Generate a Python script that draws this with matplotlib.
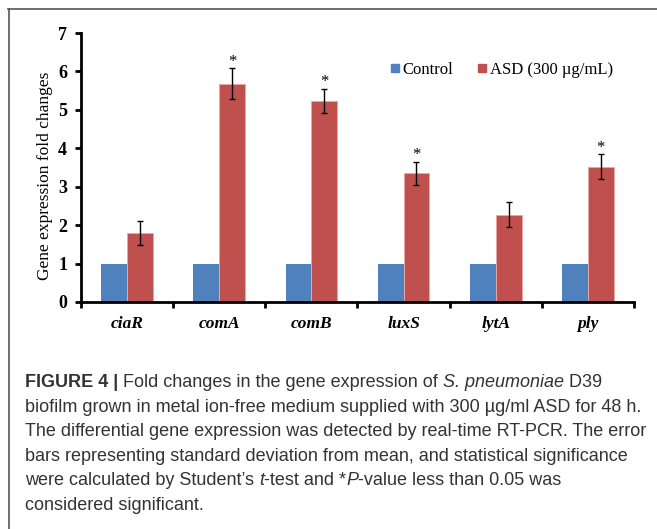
import numpy as np
import matplotlib.pyplot as plt
from matplotlib.lines import Line2D

genes = ['ciaR', 'comA', 'comB', 'luxS', 'lytA', 'ply']
control = [1, 1, 1, 1, 1, 1]
asd = [1.80, 5.68, 5.23, 3.35, 2.27, 3.52]
asd_err = [0.31, 0.40, 0.32, 0.30, 0.32, 0.32]
signif = [False, True, True, True, False, True]

blue = '#4F81BD'
red = '#C0504D'
serif = ['Liberation Serif', 'DejaVu Serif']
sans = ['Liberation Sans', 'DejaVu Sans']

fig = plt.figure(figsize=(6.57, 5.29), dpi=100)
ax = fig.add_axes([81 / 657, 1 - 302 / 529, 553 / 657, 269 / 529])

x = np.arange(len(genes))
w = 0.28
ax.bar(x - w / 2, control, w, color=blue, label='Control')
ax.bar(x + w / 2, asd, w, color=red, edgecolor='#E8A8A6', linewidth=0.6,
       label='ASD (300 µg/mL)')
ax.errorbar(x + w / 2, asd, yerr=asd_err, fmt='none', ecolor='black',
            elinewidth=1, capsize=2.5, capthick=1)
for i in range(len(genes)):
    if signif[i]:
        ax.text(x[i] + w / 2, asd[i] + asd_err[i] - 0.04, '*', ha='center',
                va='bottom', fontsize=12, family=serif)

ax.set_xlim(-0.5, len(genes) - 0.5)
ax.set_ylim(0, 7)
ax.set_yticks(range(8))
ax.set_yticklabels([str(v) for v in range(8)], family=serif,
                   fontweight='bold', fontsize=13)
ax.set_xticks(x)
ax.set_xticklabels(genes, family=serif, fontweight='bold', style='italic',
                   fontsize=12.5)
ax.set_xticks(np.arange(-0.5, len(genes)), minor=True)
ax.tick_params(axis='x', which='major', length=0, pad=10)
ax.tick_params(axis='x', which='minor', length=4, width=2, direction='out')
ax.tick_params(axis='y', length=4, width=2, direction='out', pad=6)
ax.set_ylabel('Gene expression fold changes', family=serif, fontsize=12.5)
ax.yaxis.set_label_coords(-0.05, 0.468)

for s in ['top', 'right']:
    ax.spines[s].set_visible(False)
for s in ['left', 'bottom']:
    ax.spines[s].set_linewidth(2)

handles = [Line2D([], [], marker='s', color='none', markerfacecolor=blue,
                  markeredgecolor=blue, markersize=6),
           Line2D([], [], marker='s', color='none', markerfacecolor=red,
                  markeredgecolor=red, markersize=6)]
ax.legend(handles, ['Control', 'ASD (300 µg/mL)'], ncol=2, frameon=False,
          loc='center', bbox_to_anchor=(502 / 657, 1 - 70 / 529),
          bbox_transform=fig.transFigure, prop={'family': serif, 'size': 12},
          handlelength=0.5, handletextpad=0.2, columnspacing=1.5)

# frame lines of the figure panel
fig.add_artist(Line2D([8 / 657, 1], [1 - 8.5 / 529, 1 - 8.5 / 529],
                      color='#555555', linewidth=1.2))
fig.add_artist(Line2D([8.5 / 657, 8.5 / 657], [0, 1 - 8.5 / 529],
                      color='#555555', linewidth=1.2))

caption = [
    [('FIGURE 4 | ', 'bold', 'normal'), ('Fold changes in the gene expression of ', 'normal', 'normal'),
     ('S. pneumoniae', 'normal', 'italic'), (' D39', 'normal', 'normal')],
    [('biofilm grown in metal ion-free medium supplied with 300 µg/ml ASD for 48 h.', 'normal', 'normal')],
    [('The differential gene expression was detected by real-time RT-PCR. The error', 'normal', 'normal')],
    [('bars representing standard deviation from mean, and statistical significance', 'normal', 'normal')],
    [('were calculated by Student\u2019s ', 'normal', 'normal'), ('t', 'normal', 'italic'),
     ('-test and *', 'normal', 'normal'), ('P', 'normal', 'italic'),
     ('-value less than 0.05 was', 'normal', 'normal')],
    [('considered significant.', 'normal', 'normal')],
]

fig.canvas.draw()
renderer = fig.canvas.get_renderer()

# fit the caption size to the width of the second line
probe = fig.text(0, 0, caption[1][0][0], family=sans, fontsize=12)
cap_size = 12 * 617 / probe.get_window_extent(renderer).width
probe.remove()

y0 = 387
for k, line in enumerate(caption):
    xp = 25
    yp = y0 + k * 24.6
    for txt, wt, st in line:
        t = fig.text(xp / 657, 1 - yp / 529, txt, family=sans,
                     fontweight=wt, style=st, fontsize=cap_size,
                     va='baseline', color='#333333')
        bb = t.get_window_extent(renderer)
        xp += bb.width

fig.savefig('out.png', dpi=100)
